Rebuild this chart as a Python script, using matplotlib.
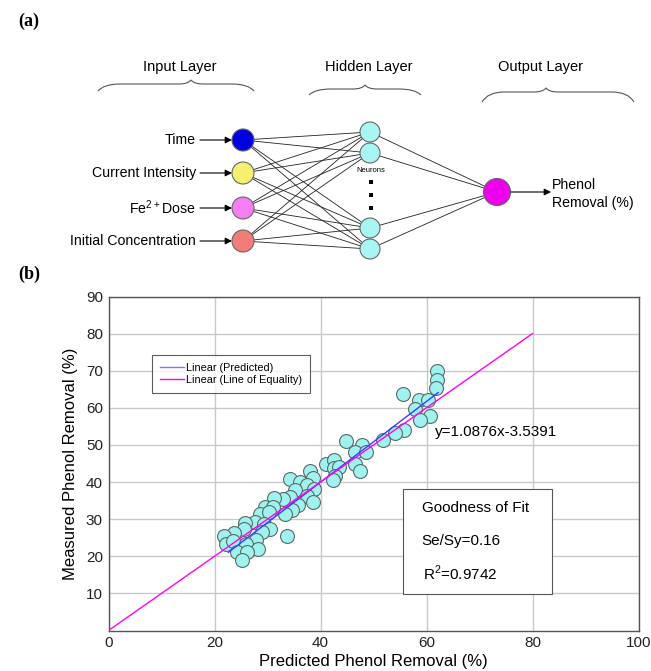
import numpy as np
import matplotlib
matplotlib.use('Agg')
import matplotlib.pyplot as plt
from matplotlib.patches import Circle, Rectangle, PathPatch
from matplotlib.path import Path

plt.rcParams['font.family'] = ['Liberation Sans', 'DejaVu Sans']
plt.rcParams['mathtext.fontset'] = 'custom'
plt.rcParams['mathtext.rm'] = 'Liberation Sans'

# ---- data: predicted vs measured phenol removal (%)
predicted = [62.0, 61.9, 61.7, 55.5, 58.6, 60.3, 57.9, 60.7, 58.8, 55.8,
             54.1, 51.7, 44.9, 47.9, 46.6, 48.5, 46.5, 47.5, 41.0, 42.6,
             42.5, 43.4, 42.7, 42.3, 38.1, 38.5, 34.2, 36.1, 37.4, 38.8,
             35.1, 37.4, 38.5, 34.2, 33.0, 35.8, 34.6, 33.3, 31.2, 29.5,
             31.1, 28.5, 30.2, 27.6, 25.8, 29.3, 30.5, 28.9, 25.6, 23.7,
             21.7, 22.1, 23.5, 27.8, 25.9, 28.3, 24.2, 26.1, 25.2, 33.6]
measured = [69.8, 67.5, 65.4, 63.8, 62.0, 62.1, 59.7, 57.9, 56.6, 54.1,
            53.2, 51.2, 51.0, 49.9, 48.1, 48.1, 44.8, 43.1, 45.0, 46.0,
            43.9, 44.0, 41.5, 40.5, 43.1, 41.2, 40.9, 40.0, 39.1, 38.2,
            37.8, 36.2, 34.6, 36.0, 35.3, 33.7, 32.4, 31.5, 35.8, 33.3,
            33.3, 31.5, 31.8, 29.2, 29.0, 28.8, 27.3, 26.6, 27.3, 26.3,
            25.4, 23.4, 24.1, 24.5, 23.4, 21.9, 21.2, 21.2, 19.0, 25.5]
slope, intercept = 1.0876, -3.5391
fit_range = [22.6, 62.2]
equality_range = [0, 80]
x_ticks = [0, 20, 40, 60, 80, 100]
y_ticks = [10, 20, 30, 40, 50, 60, 70, 80, 90]

# ---- network diagram content
input_labels = ['Time', 'Current Intensity', 'Fe$^{2+}$Dose', 'Initial Concentration']
input_colors = ['#0000e0', '#f5f06e', '#f77ef2', '#f27c76']
input_y = [140, 173, 208, 241]
hidden_y = [132, 153, 228, 249]
layer_titles = ['Input Layer', 'Hidden Layer', 'Output Layer']

W, H = 651, 671
fig = plt.figure(figsize=(W / 100, H / 100), dpi=100)

# ---------------- (a) network diagram, pixel coordinates
top_h = 280
axd = fig.add_axes([0, 1 - top_h / H, 1, top_h / H])
axd.set_xlim(0, W)
axd.set_ylim(top_h, 0)
axd.axis('off')

axd.text(29, 21, '(a)', family='Liberation Serif', weight='bold', fontsize=13,
         ha='center', va='center')


def brace(ax, x0, x1, xc, y_end, y_flat, y_peak):
    verts = [(x0, y_end), (x0 + 6, y_flat), (x0 + 22, y_flat),
             (xc - 12, y_flat), (xc - 3, y_flat), (xc, y_peak),
             (xc + 3, y_flat), (xc + 12, y_flat),
             (x1 - 22, y_flat), (x1 - 6, y_flat), (x1, y_end)]
    codes = [Path.MOVETO, Path.CURVE3, Path.CURVE3,
             Path.LINETO, Path.CURVE3, Path.CURVE3,
             Path.CURVE3, Path.CURVE3,
             Path.LINETO, Path.CURVE3, Path.CURVE3]
    ax.add_patch(PathPatch(Path(verts, codes), fill=False, ec='#555555', lw=0.8))


title_x = [180, 369, 540]
for t, x in zip(layer_titles, title_x):
    axd.text(x, 67, t, fontsize=10.5, ha='center', va='center')
brace(axd, 98, 254, 191, 91, 84, 80)
brace(axd, 309, 421, 365, 95, 89, 85)
brace(axd, 482, 634, 546, 102, 92, 88)

in_x, hid_x, out_x, out_y = 243, 370, 497, 192
for yi in input_y:
    for yh in hidden_y:
        axd.plot([in_x, hid_x], [yi, yh], color='#222222', lw=0.6, zorder=1)
for yh in hidden_y:
    axd.plot([hid_x, out_x], [yh, out_y], color='#222222', lw=0.6, zorder=1)

for lab, c, yi in zip(input_labels, input_colors, input_y):
    axd.add_patch(Circle((in_x, yi), 11, fc=c, ec='#666666', lw=0.8, zorder=3))
    axd.text(196, yi, lab, fontsize=10.2, ha='right', va='center')
    axd.annotate('', xy=(in_x - 11, yi), xytext=(200, yi),
                 arrowprops=dict(arrowstyle='-|>', color='black', lw=0.8,
                                 mutation_scale=10, shrinkA=0, shrinkB=0))
for yh in hidden_y:
    axd.add_patch(Circle((hid_x, yh), 10, fc='#a8f6f2', ec='#666666', lw=0.8, zorder=3))
axd.text(371, 170, 'Neurons', fontsize=5.5, ha='center', va='center')
for yd in [182, 195, 208]:
    axd.add_patch(Rectangle((368.5, yd - 2), 4, 4, fc='black', ec='none'))
axd.add_patch(Circle((out_x, out_y), 13.5, fc='#ee00ee', ec='#666666', lw=0.8, zorder=3))
axd.annotate('', xy=(551, out_y), xytext=(511, out_y),
             arrowprops=dict(arrowstyle='-|>', color='black', lw=0.8,
                             mutation_scale=10, shrinkA=0, shrinkB=0))
axd.text(552, 185, 'Phenol', fontsize=10.2, ha='left', va='center')
axd.text(552, 203, 'Removal (%)', fontsize=10.2, ha='left', va='center')

fig.text(29 / W, 1 - 274 / H, '(b)', family='Liberation Serif', weight='bold',
         fontsize=13, ha='center', va='center')

# ---------------- (b) scatter plot
ax = fig.add_axes([108.5 / W, 1 - 630.5 / H, 530 / W, 334 / H])
ax.set_xlim(0, 100)
ax.set_ylim(0, 90)
ax.set_xticks(x_ticks)
ax.set_yticks(y_ticks)
ax.grid(True, color='#c8c8c8', lw=1.0)
ax.set_axisbelow(True)
ax.tick_params(length=0, labelsize=11, pad=4, colors='#222222')
for s in ax.spines.values():
    s.set_color('#555555')
    s.set_linewidth(1.0)

ax.scatter(predicted, measured, s=100, c='#9ef3ee', edgecolors='#5a6a6a',
           linewidths=0.8, zorder=3)
fx = np.array(fit_range)
ax.plot(fx, slope * fx + intercept, color='#3b3bff', lw=1.0, zorder=4,
        label='Linear (Predicted)')
ax.plot(equality_range, equality_range, color='#ff00ff', lw=1.0, zorder=4,
        label='Linear (Line of Equality)')

leg = ax.legend(loc='upper left', bbox_to_anchor=(0.082, 0.825), fontsize=7.8,
                frameon=True, fancybox=False, edgecolor='#333333',
                handlelength=2.2, borderpad=0.75, labelspacing=0.2,
                handletextpad=0.15, borderaxespad=0)
leg.get_frame().set_linewidth(0.8)
leg.get_lines()[0].set_color('#7777ff')

ax.text(61.6, 53.4, 'y=1.0876x-3.5391', fontsize=11, ha='left', va='center')

ax.add_patch(Rectangle((55.6, 9.8), 28.0, 28.2, fc='white', ec='#555555',
                       lw=0.8, zorder=5))
ax.text(59.1, 33.0, 'Goodness of Fit', fontsize=11, ha='left', va='center', zorder=6)
ax.text(59.1, 24.1, 'Se/Sy=0.16', fontsize=11, ha='left', va='center', zorder=6)
ax.text(59.4, 15.5, 'R$^2$=0.9742', fontsize=11, ha='left', va='center', zorder=6)

ax.set_xlabel('Predicted Phenol Removal (%)', fontsize=12, labelpad=3)
ax.set_ylabel('Measured Phenol Removal (%)', fontsize=12, labelpad=6)

fig.savefig('out.png', dpi=100)
